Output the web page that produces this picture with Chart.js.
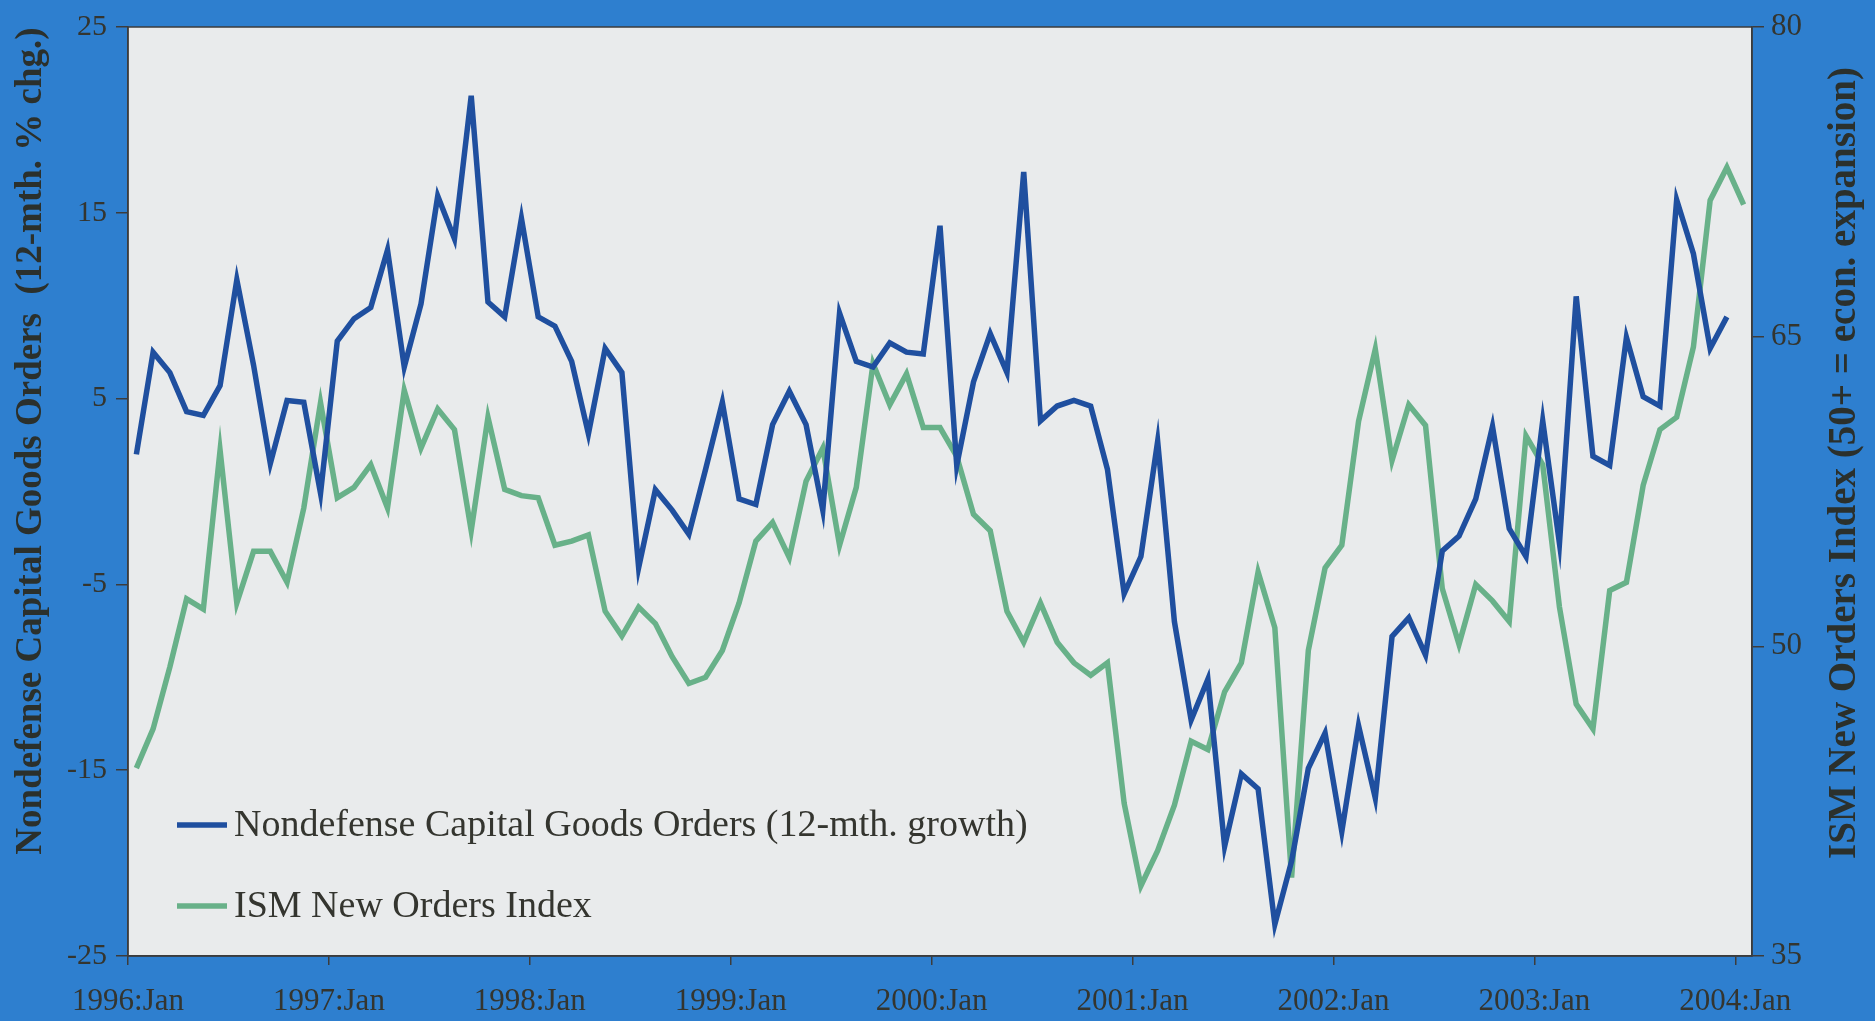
<!DOCTYPE html>
<html lang="en">
<head>
    <meta charset="UTF-8">
    <title>Capital Goods Orders vs ISM New Orders</title>
    <script src="https://cdn.jsdelivr.net/npm/chart.js"></script>
    <style>
        body {
            margin: 0;
            overflow: hidden;
            background-color: #2e7fcf;
        }
        #wrap {
            width: 1875px;
            height: 1021px;
            position: relative;
        }
    </style>
</head>
<body>
    <div id="wrap"><canvas id="chart"></canvas></div>

    <script>
        // tick labels on the time axis (one per January)
        const xTickLabels = ['1996:Jan', '1997:Jan', '1998:Jan', '1999:Jan', '2000:Jan',
                             '2001:Jan', '2002:Jan', '2003:Jan', '2004:Jan'];

        // Nondefense capital goods orders, 12-month % change, monthly from 1996:Jan to 2003:Dec
        const capGoods = [
            2.0, 7.5, 6.4, 4.3, 4.1, 5.7, 11.4, 6.8, 1.5, 4.9, 4.8, -0.1,
            8.1, 9.3, 9.9, 13.0, 6.7, 10.1, 15.9, 13.6, 21.3, 10.2, 9.4, 14.7,
            9.4, 8.9, 7.0, 3.1, 7.7, 6.4, -4.1, 0.1, -1.0, -2.3, 1.2, 4.8,
            -0.4, -0.7, 3.6, 5.4, 3.6, -1.0, 9.6, 7.0, 6.7, 8.0, 7.5, 7.4,
            14.3, 1.4, 5.9, 8.5, 6.4, 17.2, 3.8, 4.6, 4.9, 4.6, 1.2, -5.5,
            -3.5, 2.7, -7.0, -12.3, -10.1, -19.1, -15.2, -16.0, -23.3, -19.9, -14.9, -13.0,
            -18.3, -12.6, -16.5, -7.8, -6.8, -8.8, -3.2, -2.4, -0.4, 3.5, -2.0, -3.5,
            3.8, -2.8, 10.5, 1.9, 1.4, 8.3, 5.1, 4.6, 15.7, 12.8, 7.7, 9.4
        ];

        // ISM new orders index, monthly from 1996:Jan to 2004:Jan
        const ismOrders = [
            44.1, 46.0, 49.0, 52.3, 51.8, 59.5, 52.1, 54.6, 54.6, 53.1, 56.7, 61.8,
            57.2, 57.7, 58.8, 56.7, 62.4, 59.6, 61.5, 60.5, 55.6, 61.1, 57.6, 57.3,
            57.2, 54.9, 55.1, 55.4, 51.7, 50.5, 51.9, 51.1, 49.5, 48.2, 48.5, 49.8,
            52.1, 55.1, 56.0, 54.3, 58.0, 59.6, 54.9, 57.7, 63.7, 61.7, 63.2, 60.6,
            60.6, 59.2, 56.4, 55.6, 51.7, 50.2, 52.1, 50.2, 49.2, 48.6, 49.2, 42.4,
            38.4, 40.1, 42.3, 45.4, 45.0, 47.8, 49.2, 53.6, 50.9, 38.8, 49.8, 53.8,
            54.9, 60.9, 64.4, 59.0, 61.7, 60.7, 52.8, 50.1, 53.0, 52.2, 51.2, 60.2,
            58.8, 51.9, 47.2, 46.0, 52.7, 53.1, 57.8, 60.5, 61.1, 64.5, 71.6, 73.2,
            71.4
        ];

        const leftTitle = 'Nondefense Capital Goods Orders  (12-mth. % chg.)';
        const rightTitle = 'ISM New Orders Index (50+ = econ. expansion)';

        const serif = "'Liberation Serif', 'Times New Roman', serif";
        const textColor = '#34352f';
        const axisColor = '#3c3c3c';

        // each month sits in the middle of its slot
        const toPoints = arr => arr.map((v, i) => ({ x: i + 0.5, y: v }));

        // plot background, frame, titles and legend
        const decorations = {
            id: 'decorations',
            beforeDraw(chart) {
                const { ctx, chartArea: a } = chart;
                ctx.save();
                ctx.fillStyle = '#e9ebec';
                ctx.fillRect(a.left, a.top, a.right - a.left, a.bottom - a.top);
                ctx.restore();
            },
            afterDraw(chart) {
                const { ctx, chartArea: a } = chart;
                ctx.save();
                ctx.strokeStyle = axisColor;
                ctx.lineWidth = 1.5;
                ctx.strokeRect(a.left, a.top, a.right - a.left, a.bottom - a.top);

                // axis titles, both read bottom to top
                ctx.fillStyle = '#2b302c';
                ctx.textAlign = 'center';
                ctx.textBaseline = 'middle';
                ctx.save();
                ctx.font = 'bold 37px ' + serif;
                ctx.translate(31, 441);
                ctx.rotate(-Math.PI / 2);
                ctx.fillText(leftTitle, 0, 0);
                ctx.restore();
                ctx.save();
                ctx.font = 'bold 39px ' + serif;
                ctx.translate(1845, 463);
                ctx.rotate(-Math.PI / 2);
                ctx.fillText(rightTitle, 0, 0);
                ctx.restore();

                // legend inside the plot, lower left
                ctx.font = '38px ' + serif;
                ctx.textAlign = 'left';
                chart.data.datasets.forEach((ds, k) => {
                    const y = 825 + k * 81;
                    ctx.strokeStyle = ds.borderColor;
                    ctx.lineWidth = 5.5;
                    ctx.beginPath();
                    ctx.moveTo(177, y);
                    ctx.lineTo(227, y);
                    ctx.stroke();
                    ctx.fillStyle = textColor;
                    ctx.fillText(ds.label, 234, y + 1);
                });
                ctx.restore();
            }
        };

        const ctx = document.getElementById('chart').getContext('2d');
        const chart = new Chart(ctx, {
            type: 'line',
            data: {
                datasets: [{
                    label: 'Nondefense Capital Goods Orders (12-mth. growth)',
                    data: toPoints(capGoods),
                    borderColor: '#1f4f9f',
                    borderWidth: 5.5,
                    pointRadius: 0,
                    fill: false,
                    yAxisID: 'yLeft'
                }, {
                    label: 'ISM New Orders Index',
                    data: toPoints(ismOrders),
                    borderColor: '#68b189',
                    borderWidth: 5.5,
                    pointRadius: 0,
                    fill: false,
                    yAxisID: 'yRight'
                }]
            },
            options: {
                responsive: true,
                maintainAspectRatio: false,
                animation: false,
                layout: { padding: { top: 19, left: 0, right: 0, bottom: 0 } },
                plugins: {
                    legend: { display: false },
                    tooltip: { enabled: false }
                },
                scales: {
                    x: {
                        type: 'linear',
                        min: 0,
                        max: 97,
                        afterBuildTicks: axis => {
                            axis.ticks = xTickLabels.map((l, k) => ({ value: k * 12 }));
                        },
                        afterFit: scale => { scale.height = 65; },
                        grid: { drawOnChartArea: false, tickLength: 9, color: axisColor, lineWidth: 1.5 },
                        border: { color: axisColor, width: 1.5 },
                        ticks: {
                            autoSkip: false,
                            maxRotation: 0,
                            padding: 18,
                            color: textColor,
                            font: { family: serif, size: 31 },
                            callback: v => xTickLabels[Math.round(v / 12)]
                        }
                    },
                    yLeft: {
                        position: 'left',
                        min: -25,
                        max: 25,
                        afterFit: scale => { scale.width = 128; },
                        grid: { drawOnChartArea: false, tickLength: 12, color: axisColor, lineWidth: 1.5 },
                        border: { color: axisColor, width: 1.5 },
                        ticks: {
                            stepSize: 10,
                            padding: 9,
                            color: textColor,
                            font: { family: serif, size: 30 }
                        }
                    },
                    yRight: {
                        position: 'right',
                        min: 35,
                        max: 80,
                        afterFit: scale => { scale.width = 123; },
                        grid: { drawOnChartArea: false, tickLength: 12, color: axisColor, lineWidth: 1.5 },
                        border: { color: axisColor, width: 1.5 },
                        ticks: {
                            stepSize: 15,
                            padding: 7,
                            color: textColor,
                            font: { family: serif, size: 31 }
                        }
                    }
                }
            },
            plugins: [decorations]
        });
    </script>
</body>
</html>
